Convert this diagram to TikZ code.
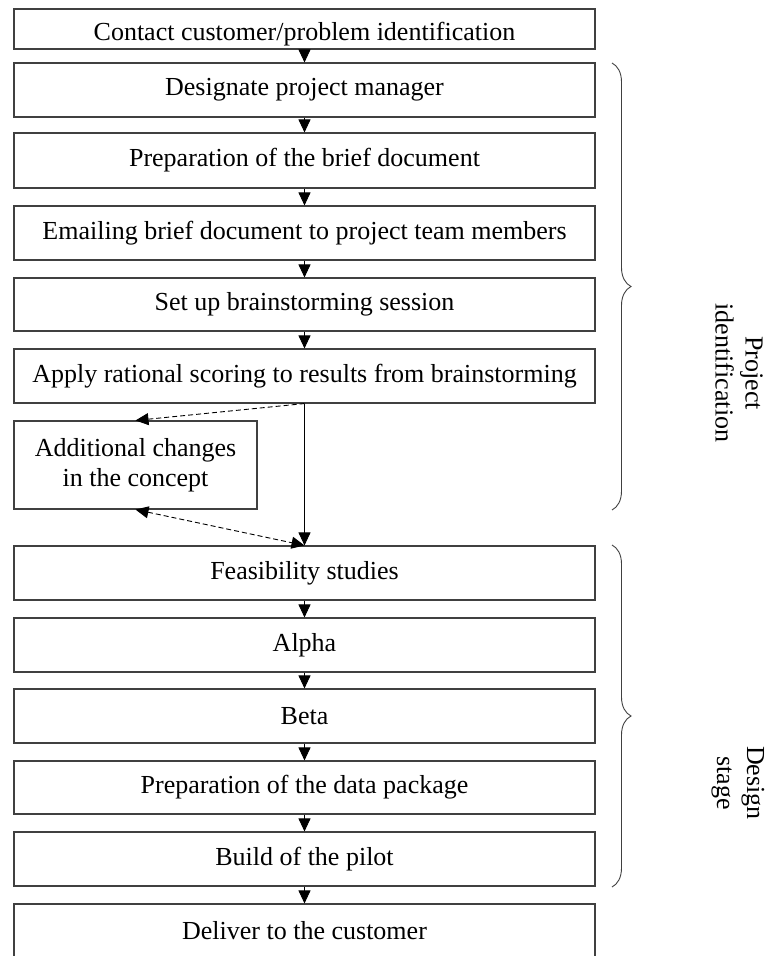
\documentclass[tikz,border=0pt]{standalone}
\usepackage{fontspec}
\setmainfont{Liberation Serif}
\usetikzlibrary{arrows.meta,decorations.pathreplacing}
\tikzset{
  stepbox/.style={draw=black!75, line width=1.1pt, minimum width=581pt, inner sep=0pt, font=\fontsize{26}{30}\selectfont, fill=white},
  flow/.style={-{Triangle[length=13pt,width=12pt]}, line width=0.9pt, black},
  dashflow/.style={-{Triangle[length=13pt,width=12pt]}, line width=0.9pt, black, dash pattern=on 5pt off 3pt},
  bracestyle/.style={decorate, decoration={brace, amplitude=19pt}, draw=black!75, line width=0.9pt},
  stagelabel/.style={rotate=-90, align=center, font=\fontsize{26}{30}\selectfont}
}
\begin{document}
\begin{tikzpicture}[x={(1pt,0)}, y={(0,-1pt)}]
\useasboundingbox (0,0) rectangle (767,956);
\clip (0,0) rectangle (767,956);
\node[stepbox, minimum height=40pt, text height=23pt, text depth=0pt] (b1) at (304.5,29) {Contact customer/problem identification};
\node[stepbox, minimum height=54pt] (b2) at (304.5,90) {Designate project manager};
\node[stepbox, minimum height=55pt] (b3) at (304.5,160.5) {Preparation of the brief document};
\node[stepbox, minimum height=54pt] (b4) at (304.5,233) {Emailing brief document to project team members};
\node[stepbox, minimum height=53pt] (b5) at (304.5,304.5) {Set up brainstorming session};
\node[stepbox, minimum height=54pt] (b6) at (304.5,376) {Apply rational scoring to results from brainstorming};
\node[stepbox, minimum width=243pt, minimum height=88pt, align=center] (add) at (135.5,465) {Additional changes\\in the concept};
\node[stepbox, minimum height=54pt] (f1) at (304.5,573) {Feasibility studies};
\node[stepbox, minimum height=54pt] (f2) at (304.5,645) {Alpha};
\node[stepbox, minimum height=54pt] (f3) at (304.5,716) {Beta};
\node[stepbox, minimum height=53pt] (f4) at (304.5,787.5) {Preparation of the data package};
\node[stepbox, minimum height=54pt] (f5) at (304.5,859) {Build of the pilot};
\node[stepbox, minimum height=54pt] (f6) at (304.5,931) {Deliver to the customer};

\draw[flow] (b1) -- (b2);
\draw[flow] (b2) -- (b3);
\draw[flow] (b3) -- (b4);
\draw[flow] (b4) -- (b5);
\draw[flow] (b5) -- (b6);
\draw[flow] (b6.south) -- (f1.north);
\draw[dashflow] (b6.south) -- (add.north);
\draw[dashflow, {Triangle[length=13pt,width=12pt]}-{Triangle[length=13pt,width=12pt]}] (add.south) -- (f1.north);
\draw[flow] (f1) -- (f2);
\draw[flow] (f2) -- (f3);
\draw[flow] (f3) -- (f4);
\draw[flow] (f4) -- (f5);
\draw[flow] (f5) -- (f6);

\coordinate (pa) at (612,63);
\coordinate (pb) at (612,510);
\coordinate (da) at (612,545);
\coordinate (db) at (612,887);
\draw[bracestyle] (pa) -- (pb);
\draw[bracestyle] (da) -- (db);
\node[stagelabel] (plabel) at (739,373) {Project\\identification};
\node[stagelabel] (dlabel) at (738,783) {Design\\stage};
\end{tikzpicture}
\end{document}
